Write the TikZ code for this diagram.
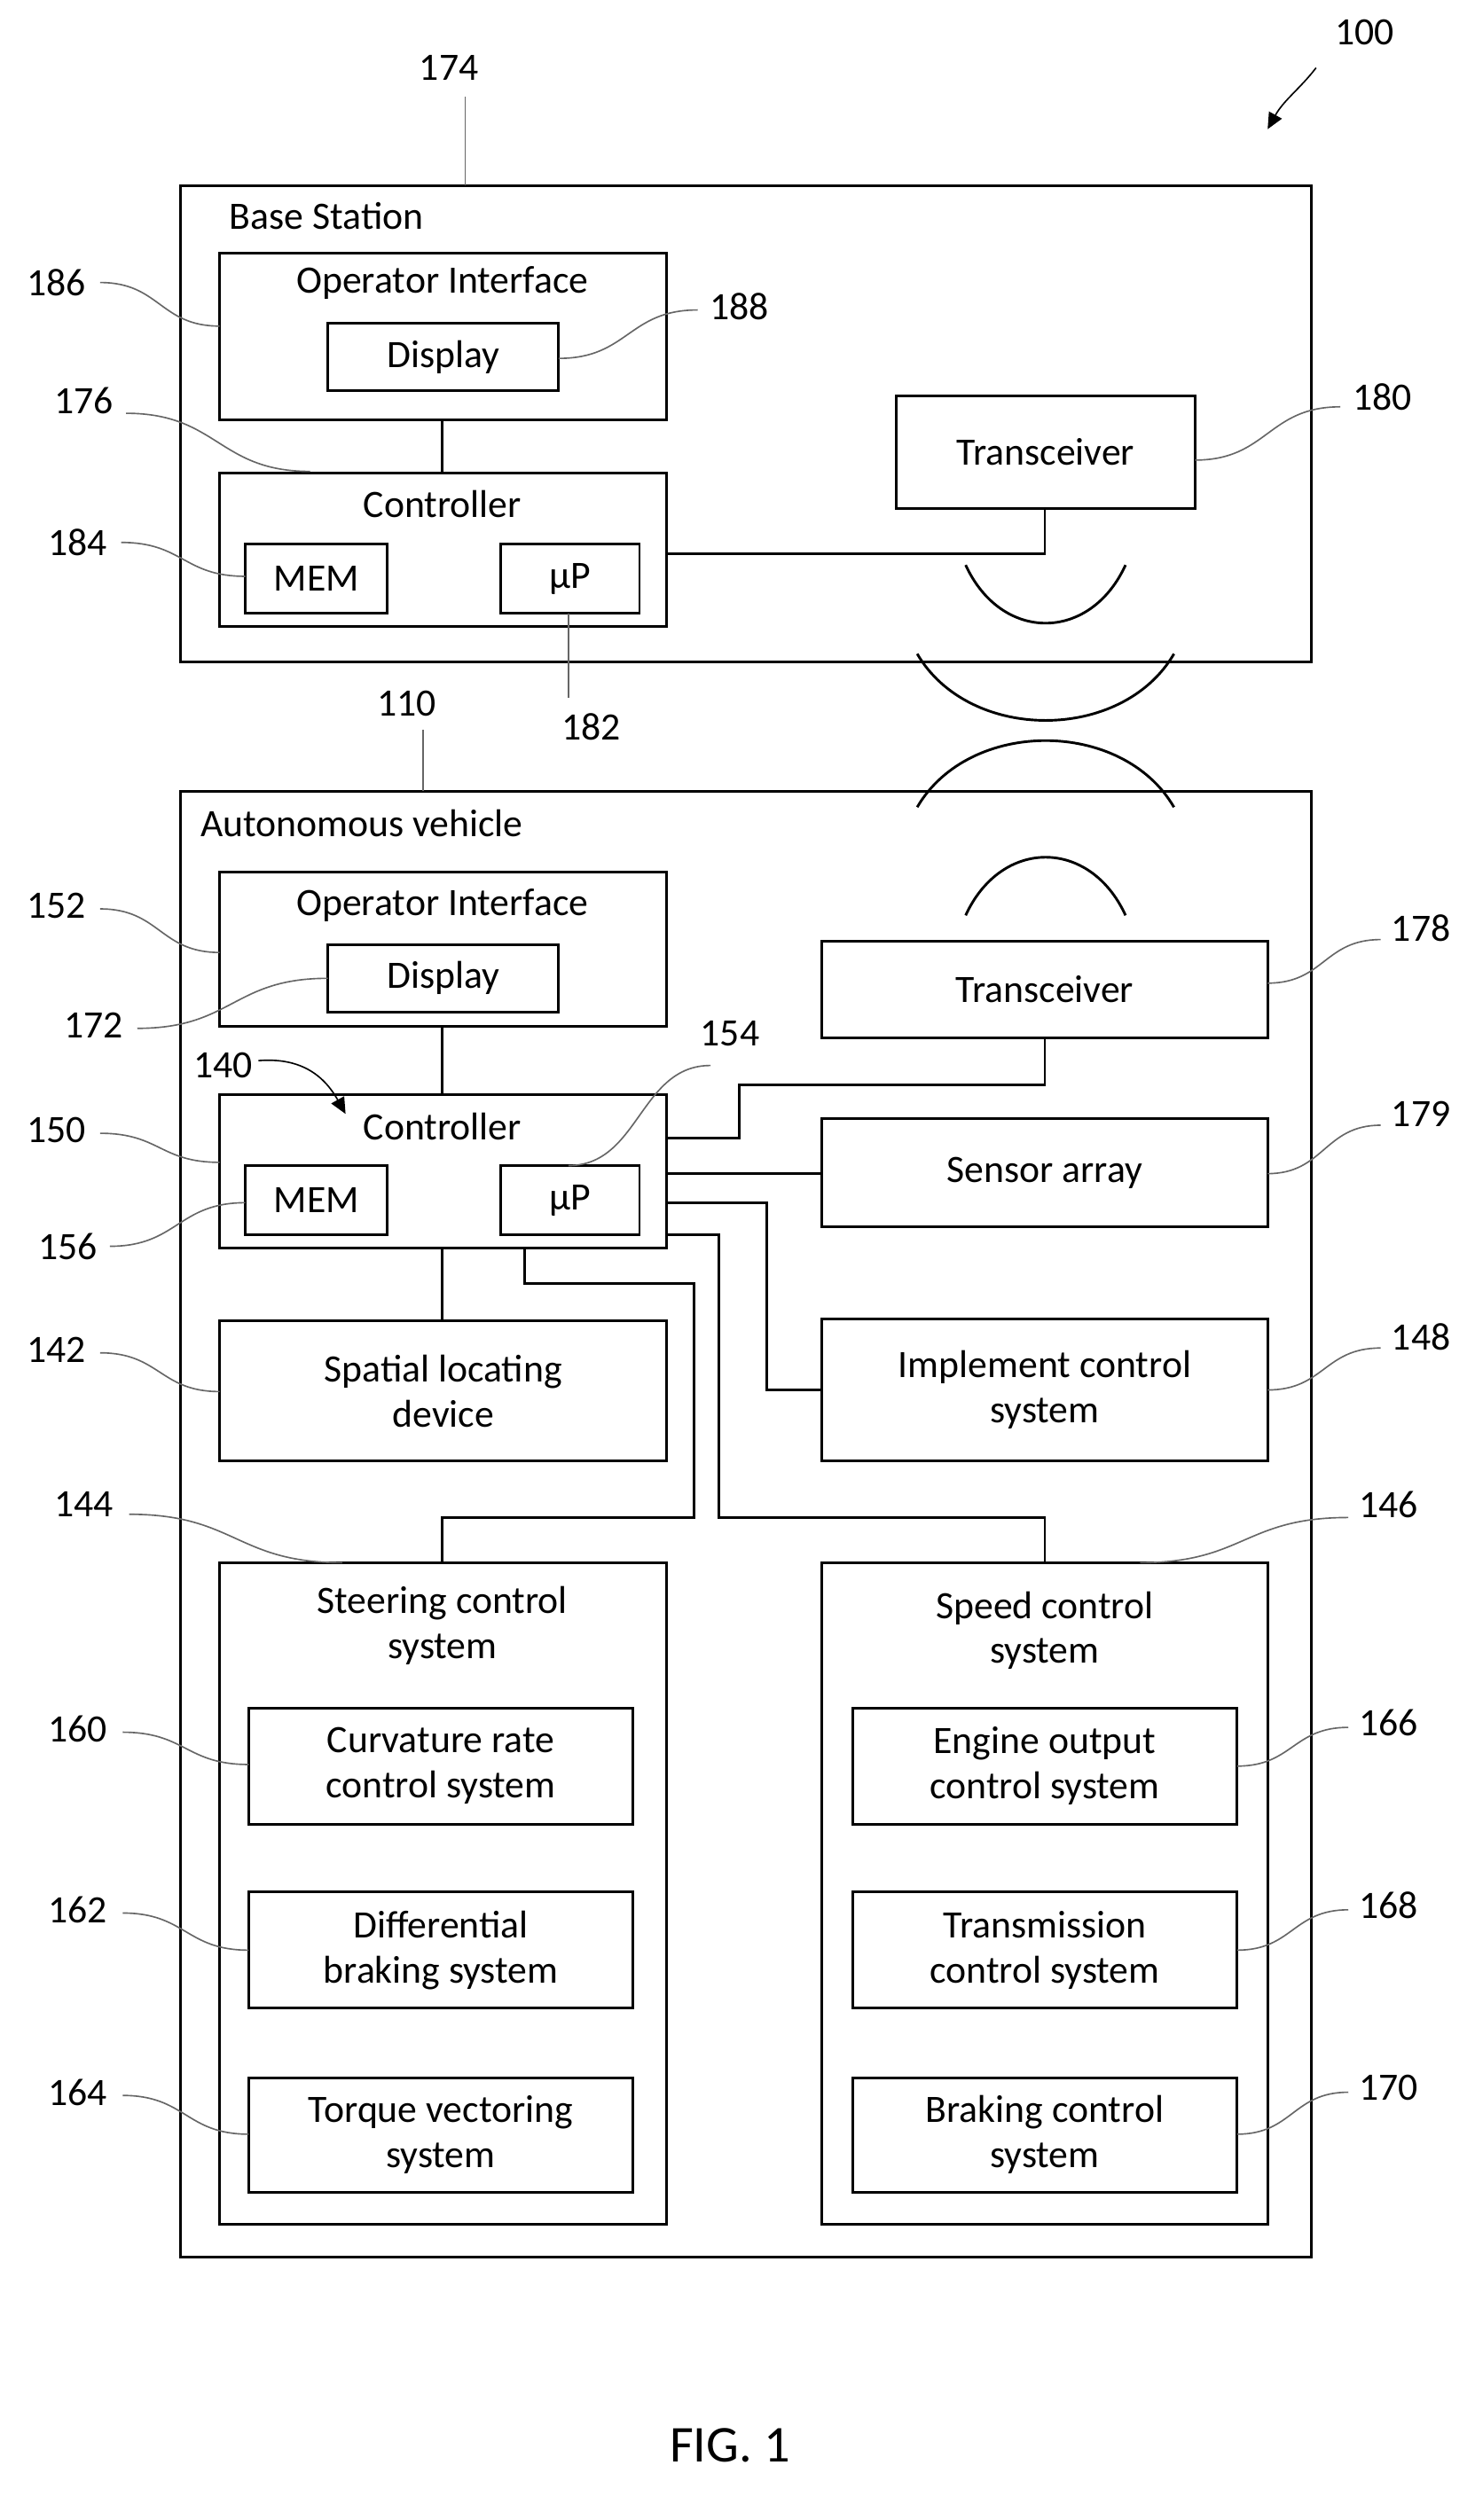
\documentclass[tikz,border=0pt]{standalone}
\usepackage{fontspec}
\setmainfont{Carlito}
\usetikzlibrary{arrows.meta}
\begin{document}
\begin{tikzpicture}[x=1pt,y=-1pt,
  box/.style={draw,line width=1.6pt},
  wire/.style={line width=1.6pt},
  lead/.style={draw=black!60,line width=0.9pt},
  txt/.style={font=\fontsize{24}{28}\selectfont,align=center,inner sep=0pt},
  num/.style={font=\fontsize{24}{28}\selectfont,inner sep=0pt}]
\useasboundingbox (0,0) rectangle (913,1561);
\newcommand\bx[5]{\draw[box] (#1,#2) rectangle (#3,#4); \node[txt] at ({(#1+#3)/2},{(#2+#4)/2}) {#5};}
\newcommand\ld[4]{\draw[lead] (#1,#2) .. controls ({(#1+#3)/2},#2) and ({(#1+#3)/2},#4) .. (#3,#4);}
\newcommand\lv[4]{\draw[lead] (#1,#2) .. controls (#1,{(#2+#4)/2}) and (#3,{(#2+#4)/2}) .. (#3,#4);}
% Base station
\draw[box] (112,115) rectangle (812,410);
\node[txt,anchor=west] at (142,134) {Base Station};
\draw[box] (136,157) rectangle (413,260); \node[txt] at (274,175) {Operator Interface};
\bx{203}{200}{346}{242}{Display}
\draw[box] (136,293) rectangle (413,388); \node[txt] at (274,312) {Controller};
\bx{152}{337}{240}{380}{MEM}
\bx{310}{337}{396}{380}{µP}
\draw[wire] (274,260)--(274,293);
\bx{555}{245}{740}{315}{Transceiver}
\draw[wire] (413,343)--(647,343)--(647,315);
% waves
\draw[wire] (598,350) .. controls (620,398) and (675,398) .. (697,350);
\draw[wire] (568,405) .. controls (600,460) and (695,460) .. (727,405);
\draw[wire] (568,500) .. controls (600,445) and (695,445) .. (727,500);
\draw[wire] (598,567) .. controls (620,519) and (675,519) .. (697,567);
% Vehicle
\draw[box] (112,490) rectangle (812,1398);
\node[txt,anchor=west] at (124,510) {Autonomous vehicle};
\draw[box] (136,540) rectangle (413,636); \node[txt] at (274,561) {Operator Interface};
\bx{203}{585}{346}{627}{Display}
\draw[box] (136,678) rectangle (413,773); \node[txt] at (274,698) {Controller};
\bx{152}{722}{240}{765}{MEM}
\bx{310}{722}{396}{765}{µP}
\draw[wire] (274,636)--(274,678);
\bx{509}{583}{785}{643}{Transceiver}
\bx{509}{693}{785}{760}{Sensor array}
\bx{509}{817}{785}{905}{Implement control\\system}
\bx{136}{818}{413}{905}{Spatial locating\\device}
\draw[box] (136,968) rectangle (413,1378); \node[txt] at (274,1007) {Steering control\\system};
\bx{154}{1058}{392}{1130}{Curvature rate\\control system}
\bx{154}{1172}{392}{1244}{Differential\\braking system}
\bx{154}{1287}{392}{1358}{Torque vectoring\\system}
\draw[box] (509,968) rectangle (785,1378); \node[txt] at (647,1010) {Speed control\\system};
\bx{528}{1058}{766}{1130}{Engine output\\control system}
\bx{528}{1172}{766}{1244}{Transmission\\control system}
\bx{528}{1287}{766}{1358}{Braking control\\system}
% wires
\draw[wire] (413,705)--(458,705)--(458,672)--(647,672)--(647,643);
\draw[wire] (413,727)--(509,727);
\draw[wire] (413,745)--(475,745)--(475,861)--(509,861);
\draw[wire] (413,765)--(445,765)--(445,940)--(647,940)--(647,968);
\draw[wire] (325,773)--(325,795)--(430,795)--(430,940)--(274,940)--(274,968);
\draw[wire] (274,773)--(274,818);
% labels
\node[num] at (845,20) {100};
\draw[lead,-{Triangle[length=10pt,width=9pt]},black,line width=0.9pt] (815,42) .. controls (805,55) and (795,62) .. (785,80);
\node[num] at (278,42) {174}; \lv{288}{60}{288}{115}
\node[num] at (35,175) {186}; \ld{62}{175}{136}{202}
\node[num] at (458,190) {188}; \ld{432}{192}{346}{222}
\node[num] at (52,248) {176}; \ld{78}{256}{192}{292}
\node[num] at (48,336) {184}; \ld{75}{336}{152}{357}
\node[num] at (366,450) {182}; \lv{352}{432}{352}{380}
\node[num] at (856,246) {180}; \ld{830}{252}{740}{285}
\node[num] at (252,436) {110}; \lv{262}{452}{262}{490}
\node[num] at (35,561) {152}; \ld{62}{563}{136}{590}
\node[num] at (58,635) {172}; \ld{85}{637}{203}{606}
\node[num] at (138,660) {140};
\draw[-{Triangle[length=10pt,width=9pt]},line width=0.9pt] (160,657) .. controls (185,655) and (200,665) .. (214,690);
\node[num] at (452,640) {154}; \ld{440}{660}{352}{722}
\node[num] at (35,700) {150}; \ld{62}{702}{136}{720}
\node[num] at (42,772) {156}; \ld{68}{772}{152}{745}
\node[num] at (880,575) {178}; \ld{855}{582}{785}{609}
\node[num] at (880,690) {179}; \ld{855}{697}{785}{727}
\node[num] at (35,836) {142}; \ld{62}{838}{136}{862}
\node[num] at (880,828) {148}; \ld{855}{835}{785}{861}
\node[num] at (52,932) {144}; \ld{80}{938}{212}{968}
\node[num] at (860,932) {146}; \ld{835}{940}{706}{968}
\node[num] at (48,1071) {160}; \ld{76}{1073}{154}{1093}
\node[num] at (48,1183) {162}; \ld{76}{1185}{154}{1208}
\node[num] at (48,1296) {164}; \ld{76}{1298}{154}{1322}
\node[num] at (860,1067) {166}; \ld{835}{1070}{766}{1094}
\node[num] at (860,1180) {168}; \ld{835}{1183}{766}{1208}
\node[num] at (860,1293) {170}; \ld{835}{1296}{766}{1322}
\node[font=\fontsize{32}{36}\selectfont,inner sep=0pt] at (452,1515) {FIG. 1};
\end{tikzpicture}
\end{document}
